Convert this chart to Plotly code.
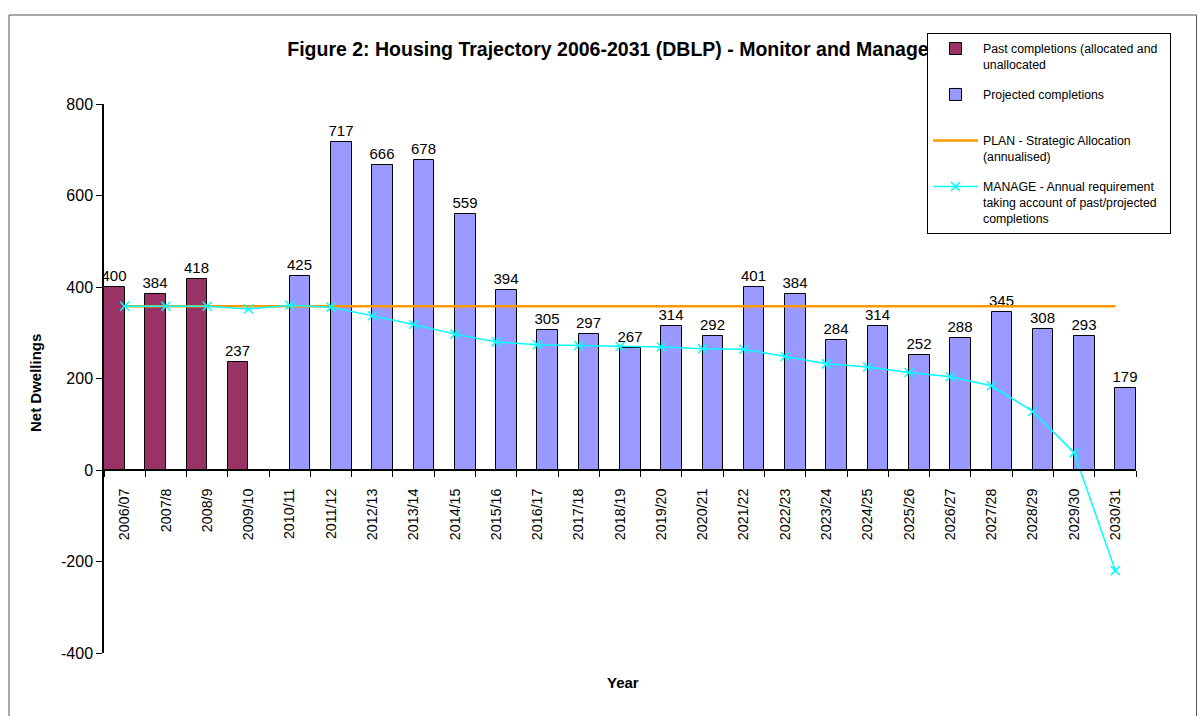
import plotly.graph_objects as go

categories = ["2006/07", "2007/8", "2008/9", "2009/10", "2010/11", "2011/12", "2012/13",
              "2013/14", "2014/15", "2015/16", "2016/17", "2017/18", "2018/19", "2019/20",
              "2020/21", "2021/22", "2022/23", "2023/24", "2024/25", "2025/26", "2026/27",
              "2027/28", "2028/29", "2029/30", "2030/31"]

past_completions = [400, 384, 418, 237, None, None, None, None, None, None, None, None, None,
                    None, None, None, None, None, None, None, None, None, None, None, None]

projected_completions = [None, None, None, None, 425, 717, 666, 678, 559, 394, 305, 297, 267,
                         314, 292, 401, 384, 284, 314, 252, 288, 345, 308, 293, 179]

plan_allocation = [358, 358, 358, 358, 358, 358, 358, 358, 358, 358, 358, 358, 358,
                   358, 358, 358, 358, 358, 358, 358, 358, 358, 358, 358, 358]

manage_requirement = [358, 358, 358, 352, 360, 356, 337, 318, 297, 280, 274, 272, 270,
                      269, 265, 264, 248, 232, 225, 213, 204, 184, 128, 38, -220]

y_ticks = [-400, -200, 0, 200, 400, 600, 800]
y_tick_labels = ["-400", "-200", "0", "200", "400", "600", "800"]

FONT = "Liberation Sans, Arial, sans-serif"

fig = go.Figure()

fig.add_trace(go.Bar(
    x=categories, y=past_completions,
    name="Past completions (allocated and&nbsp;&nbsp;<br>unallocated",
    legendgroup="g1",
    marker=dict(color="#993366", line=dict(color="black", width=1)),
    texttemplate="%{y}", textposition="outside", constraintext="none",
    textfont=dict(size=15, color="black", family=FONT),
    cliponaxis=False,
))
fig.add_trace(go.Bar(
    x=categories, y=projected_completions,
    name="Projected completions<br> ",
    legendgroup="g2",
    marker=dict(color="#9999FF", line=dict(color="black", width=1)),
    texttemplate="%{y}", textposition="outside", constraintext="none",
    textfont=dict(size=15, color="black", family=FONT),
    cliponaxis=False,
))
fig.add_trace(go.Scatter(
    x=categories, y=plan_allocation, mode="lines",
    name="PLAN - Strategic Allocation<br>(annualised)",
    legendgroup="g3",
    line=dict(color="#FF9900", width=2.5),
))
fig.add_trace(go.Scatter(
    x=categories, y=manage_requirement, mode="lines+markers",
    name="MANAGE - Annual requirement<br>taking account of past/projected<br>completions",
    legendgroup="g4",
    line=dict(color="#00FFFF", width=1.5),
    marker=dict(symbol="x-thin", size=9, line=dict(width=1.5, color="#00FFFF"), color="#00FFFF"),
    cliponaxis=False,
))

L, R, T, B = 104, 61, 104, 63
W, H = 1197, 716
pw, ph = W - L - R, H - T - B

def px_x(x):
    return (x - L) / pw

def px_y(y):
    return (H - B - y) / ph

fig.update_layout(
    width=W, height=H,
    margin=dict(l=L, r=R, t=T, b=B, pad=0, autoexpand=False),
    paper_bgcolor="white", plot_bgcolor="white",
    font=dict(family=FONT, color="black", size=15),
    barmode="group", bargap=0, bargroupgap=0,
    title=dict(
        text="<b>Figure 2: Housing Trajectory 2006-2031 (DBLP) - Monitor and Manage</b>",
        x=608 / W, xanchor="center", y=1 - 49 / H, yanchor="middle",
        font=dict(size=19.5, family=FONT, color="black"),
    ),
    showlegend=True,
    legend=dict(
        x=px_x(927), y=px_y(33), xanchor="left", yanchor="top",
        bgcolor="white", bordercolor="black", borderwidth=1,
        font=dict(size=12.3, family=FONT, color="black"),
        traceorder="grouped", tracegroupgap=11, valign="top",
        itemwidth=45,
    ),
    xaxis=dict(
        type="category", categoryorder="array", categoryarray=categories,
        anchor="free", position=1 / 3,
        showline=True, linecolor="black", linewidth=1.5,
        ticks="outside", ticklen=6, tickcolor="black", tickson="boundaries",
        tickangle=-90, tickfont=dict(size=14.3, family=FONT),
        ticklabelstandoff=12,
        showgrid=False, zeroline=False,
        range=[-0.5, len(categories) - 0.5],
    ),
    yaxis=dict(
        range=[-400, 800], tickvals=y_ticks, ticktext=y_tick_labels, domain=[0, 1],
        showline=True, linecolor="black", linewidth=1.5,
        ticks="outside", ticklen=6, tickcolor="black",
        tickfont=dict(size=16, family=FONT),
        showgrid=False, zeroline=False,
    ),
    annotations=[
        dict(text="<b>Net Dwellings</b>", xref="paper", yref="paper",
             x=px_x(35), y=px_y(383), xanchor="center", yanchor="middle",
             textangle=-90, showarrow=False,
             font=dict(size=15, family=FONT)),
        dict(text="<b>Year</b>", xref="paper", yref="paper",
             x=px_x(623), y=px_y(682), xanchor="center", yanchor="middle",
             showarrow=False,
             font=dict(size=15, family=FONT)),
    ],
    shapes=[
        dict(type="rect", xref="paper", yref="paper",
             x0=px_x(9), x1=px_x(1196.5), y0=px_y(730), y1=px_y(15),
             line=dict(color="#555555", width=1), layer="below"),
    ],
)

fig.write_html("out.html", config={"displayModeBar": False},
               post_script="document.body.style.margin='0';document.body.style.padding='0';")
